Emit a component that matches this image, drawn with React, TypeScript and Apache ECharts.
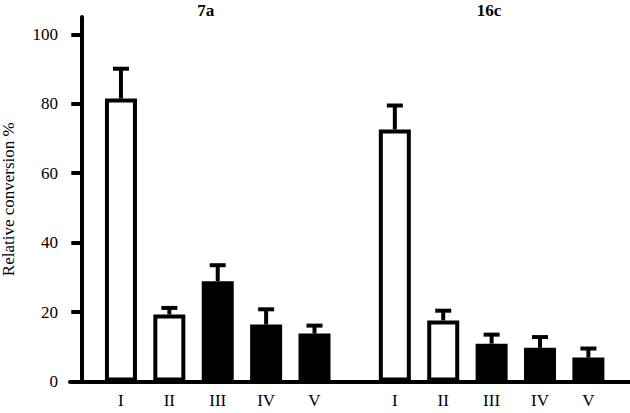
import React, { useEffect, useRef } from "react";
import * as echarts from "echarts";

const categories = ["I", "II", "III", "IV", "V"];
const groups = ["7a", "16c"];
const values7a = [81.5, 19.3, 28.9, 16.4, 13.8];
const err7a = [8.6, 1.9, 4.6, 4.4, 2.3];
const values16c = [72.6, 17.6, 10.9, 9.7, 6.9];
const err16c = [6.9, 2.8, 2.6, 3.1, 2.6];
const openBar = [true, true, false, false, false];
const yTicks = [0, 20, 40, 60, 80, 100];

const groupValues = [values7a, values16c];
const groupErrs = [err7a, err16c];
const groupStart = [0.82, 6.48];
const FONT = "'Liberation Serif', 'Times New Roman', serif";

export default function App() {
  const ref = useRef<HTMLDivElement>(null);
  useEffect(() => {
    if (!ref.current) return;
    const chart = echarts.init(ref.current, null, { renderer: "svg" });

    const barData: any[] = [];
    const errData: any[] = [];
    const labelPos: number[] = [];
    const labelText: string[] = [];
    groups.forEach((g, gi) => {
      categories.forEach((c, i) => {
        const x = groupStart[gi] + i;
        const v = groupValues[gi][i];
        const e = groupErrs[gi][i];
        barData.push({
          value: [x, v],
          itemStyle: {
            color: openBar[i] ? "#ffffff" : "#000000",
            borderColor: "#000000",
            borderWidth: 4,
          },
        });
        errData.push([x, v, v + e]);
        labelPos.push(x);
        labelText.push(c);
      });
    });

    const option: any = {
      animation: false,
      grid: {
        left: 70,
        right: 0,
        top: 17,
        bottom: 31.5,
        containLabel: false,
        outerBoundsMode: "none",
      },
      xAxis: {
        type: "value",
        min: -0.233,
        max: 11.34,
        splitLine: { show: false },
        axisTick: { show: false },
        axisLine: { show: true, onZero: false, lineStyle: { color: "#000", width: 4 } },
        axisLabel: {
          customValues: labelPos,
          margin: 10,
          color: "#000",
          fontFamily: FONT,
          fontSize: 17,
          formatter: (val: number) => {
            let best = 0;
            let bd = Infinity;
            labelPos.forEach((p, k) => {
              const d = Math.abs(p - val);
              if (d < bd) {
                bd = d;
                best = k;
              }
            });
            return labelText[best];
          },
        },
      },
      yAxis: {
        type: "value",
        min: 0,
        max: 105,
        name: "Relative conversion %",
        nameLocation: "middle",
        nameGap: 53,
        nameMoveOverlap: false,
        nameTextStyle: { color: "#000", fontFamily: FONT, fontSize: 17 },
        splitLine: { show: false },
        axisLine: { show: true, onZero: true, lineStyle: { color: "#000", width: 4 } },
        axisTick: {
          show: true,
          customValues: yTicks,
          length: 10,
          lineStyle: { color: "#000", width: 4 },
        },
        axisLabel: {
          customValues: yTicks,
          margin: 12,
          color: "#000",
          fontFamily: FONT,
          fontSize: 17,
        },
      },
      graphic: groups.map((g, gi) => ({
        type: "text",
        x: gi === 0 ? 205.8 : 489,
        y: 10.5,
        style: {
          text: g,
          fill: "#000",
          font: `bold 17px ${FONT}`,
          textAlign: "center",
          textVerticalAlign: "middle",
        },
      })),
      series: [
        {
          type: "bar",
          data: barData,
          barWidth: 32,
          z: 2,
        },
        {
          type: "custom",
          data: errData,
          encode: { x: 0, y: [1, 2] },
          z: 3,
          renderItem: (params: any, api: any) => {
            const x = api.value(0);
            const p0 = api.coord([x, api.value(1)]);
            const p1 = api.coord([x, api.value(2)]);
            const style = { stroke: "#000", lineWidth: 4 };
            return {
              type: "group",
              children: [
                { type: "line", shape: { x1: p0[0], y1: p0[1], x2: p1[0], y2: p1[1] }, style },
                { type: "line", shape: { x1: p1[0] - 8, y1: p1[1], x2: p1[0] + 8, y2: p1[1] }, style },
              ],
            };
          },
        },
      ],
    };
    chart.setOption(option);
    return () => chart.dispose();
  }, []);
  return (
    <div
      ref={ref}
      style={{ position: "fixed", left: 0, top: 0, width: 630, height: 413, background: "#fff" }}
    />
  );
}
